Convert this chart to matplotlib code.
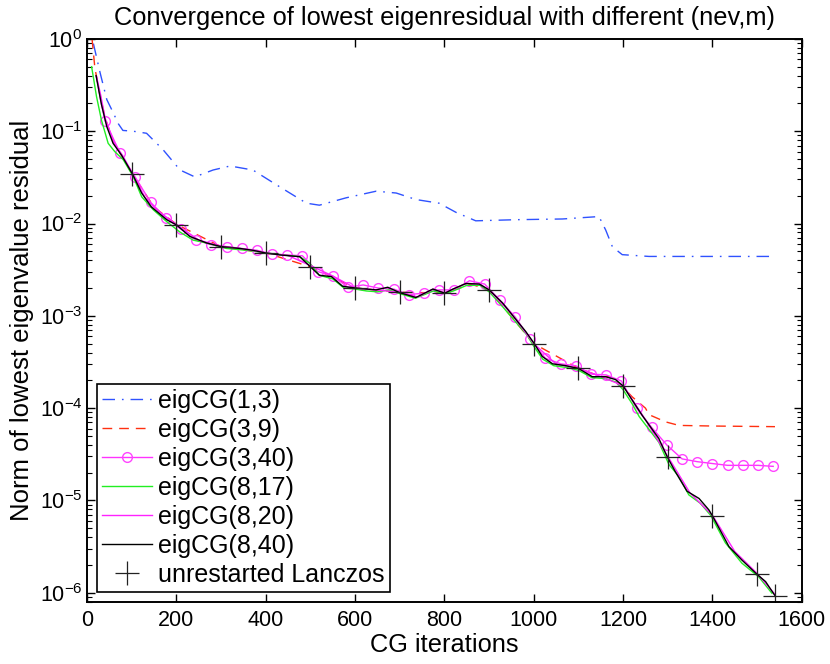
import matplotlib
matplotlib.use("Agg")
import matplotlib.pyplot as plt
from matplotlib.ticker import NullFormatter

plt.rcParams['font.family'] = ['Liberation Sans', 'DejaVu Sans']
plt.rcParams['mathtext.fontset'] = 'custom'
plt.rcParams['mathtext.rm'] = 'Liberation Sans'
plt.rcParams['mathtext.it'] = 'Liberation Sans:italic'

# eigCG(1,3)
x_1_3 = [14, 29, 44, 58, 70, 80, 103, 133, 170, 208, 241, 282, 320, 371, 431, 491, 520, 580,
         647, 692, 736, 788, 826, 870, 960, 1064, 1146, 1161, 1176, 1198, 1258, 1400, 1540]
y_1_3 = [0.89, 0.43, 0.22, 0.16, 0.12, 0.102, 0.100, 0.095, 0.063, 0.038, 0.032, 0.038, 0.042,
         0.038, 0.025, 0.0166, 0.0158, 0.019, 0.0224, 0.0214, 0.0182, 0.0166, 0.0132, 0.0107,
         0.0110, 0.0112, 0.0119, 0.0085, 0.0056, 0.0046, 0.0044, 0.0044, 0.0044]

# eigCG(3,9)
x_3_9 = [11, 17, 25, 40, 60, 100, 150, 200, 300, 400, 500, 600, 700, 800, 860, 900, 1000,
         1100, 1150, 1175, 1200, 1220, 1250, 1258, 1295, 1325, 1400, 1540]
y_3_9 = [1.0, 0.5, 0.3, 0.14, 0.075, 0.035, 0.015, 0.0098, 0.0056, 0.0048, 0.0034, 0.0020,
         0.0018, 0.00177, 0.0022, 0.0019, 0.0005, 0.00027, 0.00022, 0.000219, 0.000168,
         0.000133, 0.000100, 8.5e-5, 7.1e-5, 6.5e-5, 6.4e-5, 6.3e-5]

# eigCG(3,40), circles from the third point on
x_3_40 = [21, 30, 40, 74, 108, 142, 176, 210, 244, 278, 312, 346, 380, 414, 448, 482, 516,
          550, 584, 618, 652, 686, 720, 754, 788, 822, 856, 890, 924, 958, 992, 1026, 1060,
          1094, 1128, 1162, 1196, 1230, 1264, 1298, 1332, 1366, 1400, 1434, 1468, 1502, 1536]
y_3_40 = [0.39, 0.22, 0.130, 0.0575, 0.0316, 0.0170, 0.0115, 0.00871, 0.00661, 0.00589,
          0.00562, 0.00537, 0.00513, 0.00468, 0.00457, 0.00447, 0.00302, 0.00269, 0.00204,
          0.00216, 0.00200, 0.00195, 0.00170, 0.00176, 0.00191, 0.00191, 0.00240, 0.00221,
          0.00148, 0.000977, 0.000562, 0.000347, 0.000302, 0.000288, 0.000234, 0.000229,
          0.000197, 1.0e-4, 6.17e-5, 3.98e-5, 2.82e-5, 2.63e-5, 2.51e-5, 2.40e-5, 2.40e-5,
          2.40e-5, 2.34e-5]

# eigCG(8,17)
x_8_17 = [10, 21, 32, 47, 62, 81, 103, 122, 148, 178, 207, 237, 267, 312, 356, 401, 476, 498,
          520, 550, 575, 600, 625, 650, 675, 700, 735, 775, 800, 820, 850, 880, 900, 930, 960,
          985, 1000, 1020, 1045, 1075, 1100, 1130, 1160, 1185, 1200, 1220, 1236, 1280, 1303,
          1325, 1347, 1373, 1396, 1429, 1466, 1504, 1533]
y_8_17 = [0.50, 0.237, 0.132, 0.074, 0.060, 0.049, 0.0324, 0.0195, 0.0141, 0.0105, 0.00813,
          0.00661, 0.00617, 0.00537, 0.00513, 0.00479, 0.00437, 0.00372, 0.00275, 0.00251,
          0.00200, 0.00195, 0.00186, 0.00182, 0.00191, 0.00174, 0.00155, 0.00186, 0.00174,
          0.00186, 0.00214, 0.00214, 0.00182, 0.00126, 0.000851, 0.000617, 0.000468,
          0.000339, 0.000288, 0.000275, 0.000257, 0.000214, 0.000209, 0.000191, 0.000158,
          0.000112, 8.1e-5, 4.27e-5, 2.43e-5, 1.82e-5, 1.15e-5, 9.3e-6, 6.9e-6, 3.47e-6,
          2.09e-6, 1.48e-6, 9.9e-7]

# eigCG(8,20)
x_8_20 = [21, 30, 40, 60, 80, 100, 130, 160, 200, 250, 300, 350, 400, 450, 500, 550, 600,
          650, 700, 740, 775, 800, 850, 880, 900, 950, 1000, 1050, 1100, 1150, 1200, 1250,
          1300, 1350, 1400, 1450, 1500, 1540]
y_8_20 = [0.39, 0.25, 0.14, 0.075, 0.054, 0.036, 0.019, 0.0135, 0.0098, 0.0066, 0.0057,
          0.0053, 0.0048, 0.0045, 0.0035, 0.0027, 0.0020, 0.0019, 0.0018, 0.0016, 0.00195,
          0.00178, 0.00225, 0.0022, 0.0019, 0.00105, 0.0005, 0.0003, 0.00027, 0.00022,
          0.000175, 7.5e-5, 3.0e-5, 1.2e-5, 6.9e-6, 2.8e-6, 1.62e-6, 9.6e-7]

# eigCG(8,40)
x_8_40 = [20, 32, 44, 58, 77, 101, 122, 144, 178, 200, 230, 267, 300, 342, 371, 400, 431, 476,
          500, 520, 547, 572, 601, 647, 673, 700, 736, 774, 801, 819, 848, 878, 900, 930, 960,
          982, 1001, 1019, 1042, 1072, 1100, 1131, 1161, 1183, 1200, 1220, 1243, 1280, 1299,
          1317, 1343, 1370, 1392, 1400, 1437, 1466, 1500, 1519, 1540]
y_8_40 = [0.40, 0.195, 0.112, 0.074, 0.055, 0.0347, 0.0214, 0.0151, 0.011, 0.00966, 0.00724,
          0.00617, 0.00562, 0.00537, 0.00513, 0.00479, 0.00457, 0.00437, 0.00339, 0.00275,
          0.00266, 0.00209, 0.00200, 0.00191, 0.00204, 0.00178, 0.00158, 0.00195, 0.00176,
          0.00195, 0.00224, 0.00221, 0.00191, 0.00138, 0.000912, 0.000676, 0.000501,
          0.000363, 0.000302, 0.000288, 0.000269, 0.000219, 0.000219, 0.000204, 0.000174,
          0.000123, 8.3e-5, 4.68e-5, 2.95e-5, 2.04e-5, 1.26e-5, 1.05e-5, 7.9e-6, 6.8e-6,
          3.16e-6, 2.26e-6, 1.58e-6, 1.32e-6, 9.3e-7]

# unrestarted Lanczos
x_lanczos = [100, 200, 300, 400, 500, 600, 700, 800, 900, 1000, 1100, 1200, 1300, 1400, 1500, 1540]
y_lanczos = [0.034, 0.0097, 0.0056, 0.0048, 0.0034, 0.0020, 0.0018, 0.00176, 0.0019, 0.0005,
             0.00027, 0.000174, 2.95e-5, 6.8e-6, 1.6e-6, 9.3e-7]

fig = plt.figure(figsize=(8.3, 6.64), dpi=100)
ax = fig.add_axes([0.105, 0.0934, 0.861, 0.848])

ax.plot(x_1_3, y_1_3, color='#2f52ff', lw=1.0, dashes=(9, 5, 1.2, 5), label='eigCG(1,3)')
ax.plot(x_3_9, y_3_9, color='#ff3010', lw=1.0, dashes=(7, 5), label='eigCG(3,9)')
ax.plot(x_3_40, y_3_40, color='#ff33ff', lw=1.0, marker='o', ms=7, mfc='none',
        mec='#ff44ff', markevery=list(range(2, len(x_3_40))), label='eigCG(3,40)')
ax.plot(x_8_17, y_8_17, color='#22ee22', lw=1.0, label='eigCG(8,17)')
ax.plot(x_8_20, y_8_20, color='#ff22ff', lw=1.0, label='eigCG(8,20)')
ax.plot(x_8_40, y_8_40, color='black', lw=1.0, label='eigCG(8,40)')
ax.plot(x_lanczos, y_lanczos, ls='none', marker='+', ms=17, mew=0.9, color='#222222',
        label='unrestarted Lanczos')

ax.set_yscale('log')
ax.set_xlim(0, 1600)
ax.set_ylim(10 ** -6.1, 1)
ax.set_xticks(range(0, 1601, 200))
ax.yaxis.set_minor_formatter(NullFormatter())

ax.tick_params(which='both', direction='in', top=True, right=True, labelsize=15.5)
ax.tick_params(which='major', length=6, width=1.0)
ax.tick_params(which='minor', length=3.5, width=0.8)
ax.tick_params(axis='x', which='minor', bottom=False, top=False)
ax.tick_params(axis='x', which='major', pad=6)
for s in ax.spines.values():
    s.set_linewidth(1.4)

ax.set_title('Convergence of lowest eigenresidual with different (nev,m)', fontsize=18.3, pad=10)
ax.set_xlabel('CG iterations', fontsize=18.3, labelpad=1)
ax.set_ylabel('Norm of lowest eigenvalue residual', fontsize=18.5, labelpad=4)

leg = ax.legend(loc='lower left', fontsize=18, handlelength=2.0, handletextpad=0.25,
                labelspacing=0.2, borderpad=0.2, borderaxespad=0.4, fancybox=False,
                framealpha=1, edgecolor='black')
leg.get_frame().set_linewidth(1.2)

fig.savefig('out.png', dpi=100)
